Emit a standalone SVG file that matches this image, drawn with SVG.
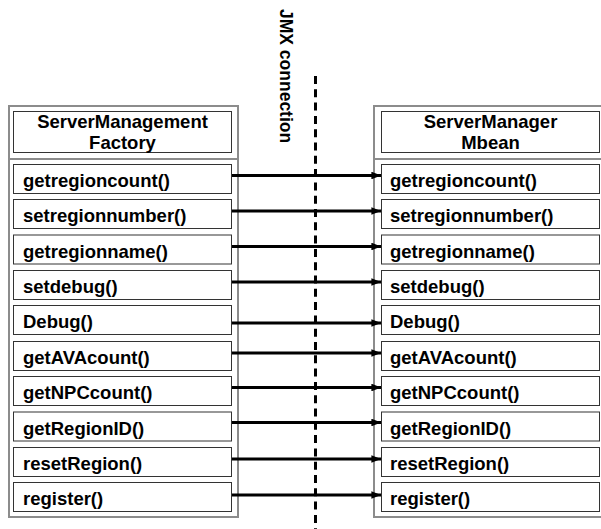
<svg xmlns="http://www.w3.org/2000/svg" width="601" height="529" viewBox="0 0 601 529">
  <defs>
    <style>
      .outer { fill: #fff; stroke: #8c8c8c; stroke-width: 2; }
      .sep { stroke: #8c8c8c; stroke-width: 2; }
      .box { fill: #fff; stroke: #333; stroke-width: 1; }
      .title { font-family: "Liberation Sans", Arial, sans-serif; font-weight: bold; font-size: 18.5px; fill: #000; text-anchor: middle; }
      .method { font-family: "Liberation Sans", Arial, sans-serif; font-weight: bold; font-size: 18.5px; fill: #000; }
      .label { font-family: "Liberation Sans", Arial, sans-serif; font-weight: bold; font-size: 17.5px; fill: #000; }
      .call { stroke: #000; stroke-width: 3; fill: none; marker-end: url(#head); }
      .link { stroke: #000; stroke-width: 3; stroke-dasharray: 8 5.3; fill: none; }
    </style>
    <marker id="head" viewBox="0 0 10 8" refX="10" refY="4" markerWidth="3.2" markerHeight="2.6" orient="auto" markerUnits="strokeWidth">
      <path d="M0,0 L10,4 L0,8 Z" fill="#000"/>
    </marker>
  </defs>

  <!-- JMX connection divider -->
  <g id="jmx">
    <line class="link" x1="315.5" y1="76" x2="315.5" y2="529"/>
    <text class="label" transform="translate(280,9) rotate(90)">JMX connection</text>
  </g>

  <!-- client-side factory -->
  <g id="factory">
    <rect class="outer" x="9" y="106" width="229" height="411"/>
    <line class="sep" x1="8" y1="159" x2="239" y2="159"/>
    <rect class="box" x="13.5" y="111.5" width="218" height="41"/>
    <text class="title" x="122.5" y="127.5">ServerManagement</text>
    <text class="title" x="122.5" y="148.5">Factory</text>
    <g id="f-methods">
      <rect class="box" x="13.5" y="164.5" width="218" height="29"/>
      <text class="method" x="23" y="187">getregioncount()</text>
      <rect class="box" x="13.5" y="199.5" width="218" height="29"/>
      <text class="method" x="23" y="222">setregionnumber()</text>
      <rect class="box" x="13.5" y="235" width="218" height="29"/>
      <text class="method" x="23" y="257.5">getregionname()</text>
      <rect class="box" x="13.5" y="270.5" width="218" height="29"/>
      <text class="method" x="23" y="293">setdebug()</text>
      <rect class="box" x="13.5" y="305.5" width="218" height="29"/>
      <text class="method" x="23" y="328">Debug()</text>
      <rect class="box" x="13.5" y="341.5" width="218" height="29"/>
      <text class="method" x="23" y="364">getAVAcount()</text>
      <rect class="box" x="13.5" y="376.5" width="218" height="29"/>
      <text class="method" x="23" y="399">getNPCcount()</text>
      <rect class="box" x="13.5" y="412" width="218" height="29"/>
      <text class="method" x="23" y="434.5">getRegionID()</text>
      <rect class="box" x="13.5" y="447.5" width="218" height="29"/>
      <text class="method" x="23" y="470">resetRegion()</text>
      <rect class="box" x="13.5" y="482.5" width="218" height="29"/>
      <text class="method" x="23" y="505">register()</text>
    </g>
  </g>

  <!-- server-side MBean -->
  <g id="mbean">
    <rect class="outer" x="374" y="106" width="240" height="411"/>
    <line class="sep" x1="373" y1="159" x2="601" y2="159"/>
    <rect class="box" x="381.5" y="111.5" width="218" height="41"/>
    <text class="title" x="490.5" y="127.5">ServerManager</text>
    <text class="title" x="490.5" y="148.5">Mbean</text>
    <g id="m-methods">
      <rect class="box" x="381.5" y="164.5" width="218" height="29"/>
      <text class="method" x="390" y="187">getregioncount()</text>
      <rect class="box" x="381.5" y="199.5" width="218" height="29"/>
      <text class="method" x="390" y="222">setregionnumber()</text>
      <rect class="box" x="381.5" y="235" width="218" height="29"/>
      <text class="method" x="390" y="257.5">getregionname()</text>
      <rect class="box" x="381.5" y="270.5" width="218" height="29"/>
      <text class="method" x="390" y="293">setdebug()</text>
      <rect class="box" x="381.5" y="305.5" width="218" height="29"/>
      <text class="method" x="390" y="328">Debug()</text>
      <rect class="box" x="381.5" y="341.5" width="218" height="29"/>
      <text class="method" x="390" y="364">getAVAcount()</text>
      <rect class="box" x="381.5" y="376.5" width="218" height="29"/>
      <text class="method" x="390" y="399">getNPCcount()</text>
      <rect class="box" x="381.5" y="412" width="218" height="29"/>
      <text class="method" x="390" y="434.5">getRegionID()</text>
      <rect class="box" x="381.5" y="447.5" width="218" height="29"/>
      <text class="method" x="390" y="470">resetRegion()</text>
      <rect class="box" x="381.5" y="482.5" width="218" height="29"/>
      <text class="method" x="390" y="505">register()</text>
    </g>
  </g>

  <!-- remote calls -->
  <g id="connectors">
    <line class="call" x1="232" y1="175.5" x2="381" y2="175.5"/>
    <line class="call" x1="232" y1="211" x2="381" y2="211"/>
    <line class="call" x1="232" y1="246.5" x2="381" y2="246.5"/>
    <line class="call" x1="232" y1="282" x2="381" y2="282"/>
    <line class="call" x1="232" y1="323" x2="381" y2="323"/>
    <line class="call" x1="232" y1="353" x2="381" y2="353"/>
    <line class="call" x1="232" y1="387.5" x2="381" y2="387.5"/>
    <line class="call" x1="232" y1="422.5" x2="381" y2="422.5"/>
    <line class="call" x1="232" y1="459" x2="381" y2="459"/>
    <line class="call" x1="232" y1="495" x2="381" y2="495"/>
  </g>
</svg>
